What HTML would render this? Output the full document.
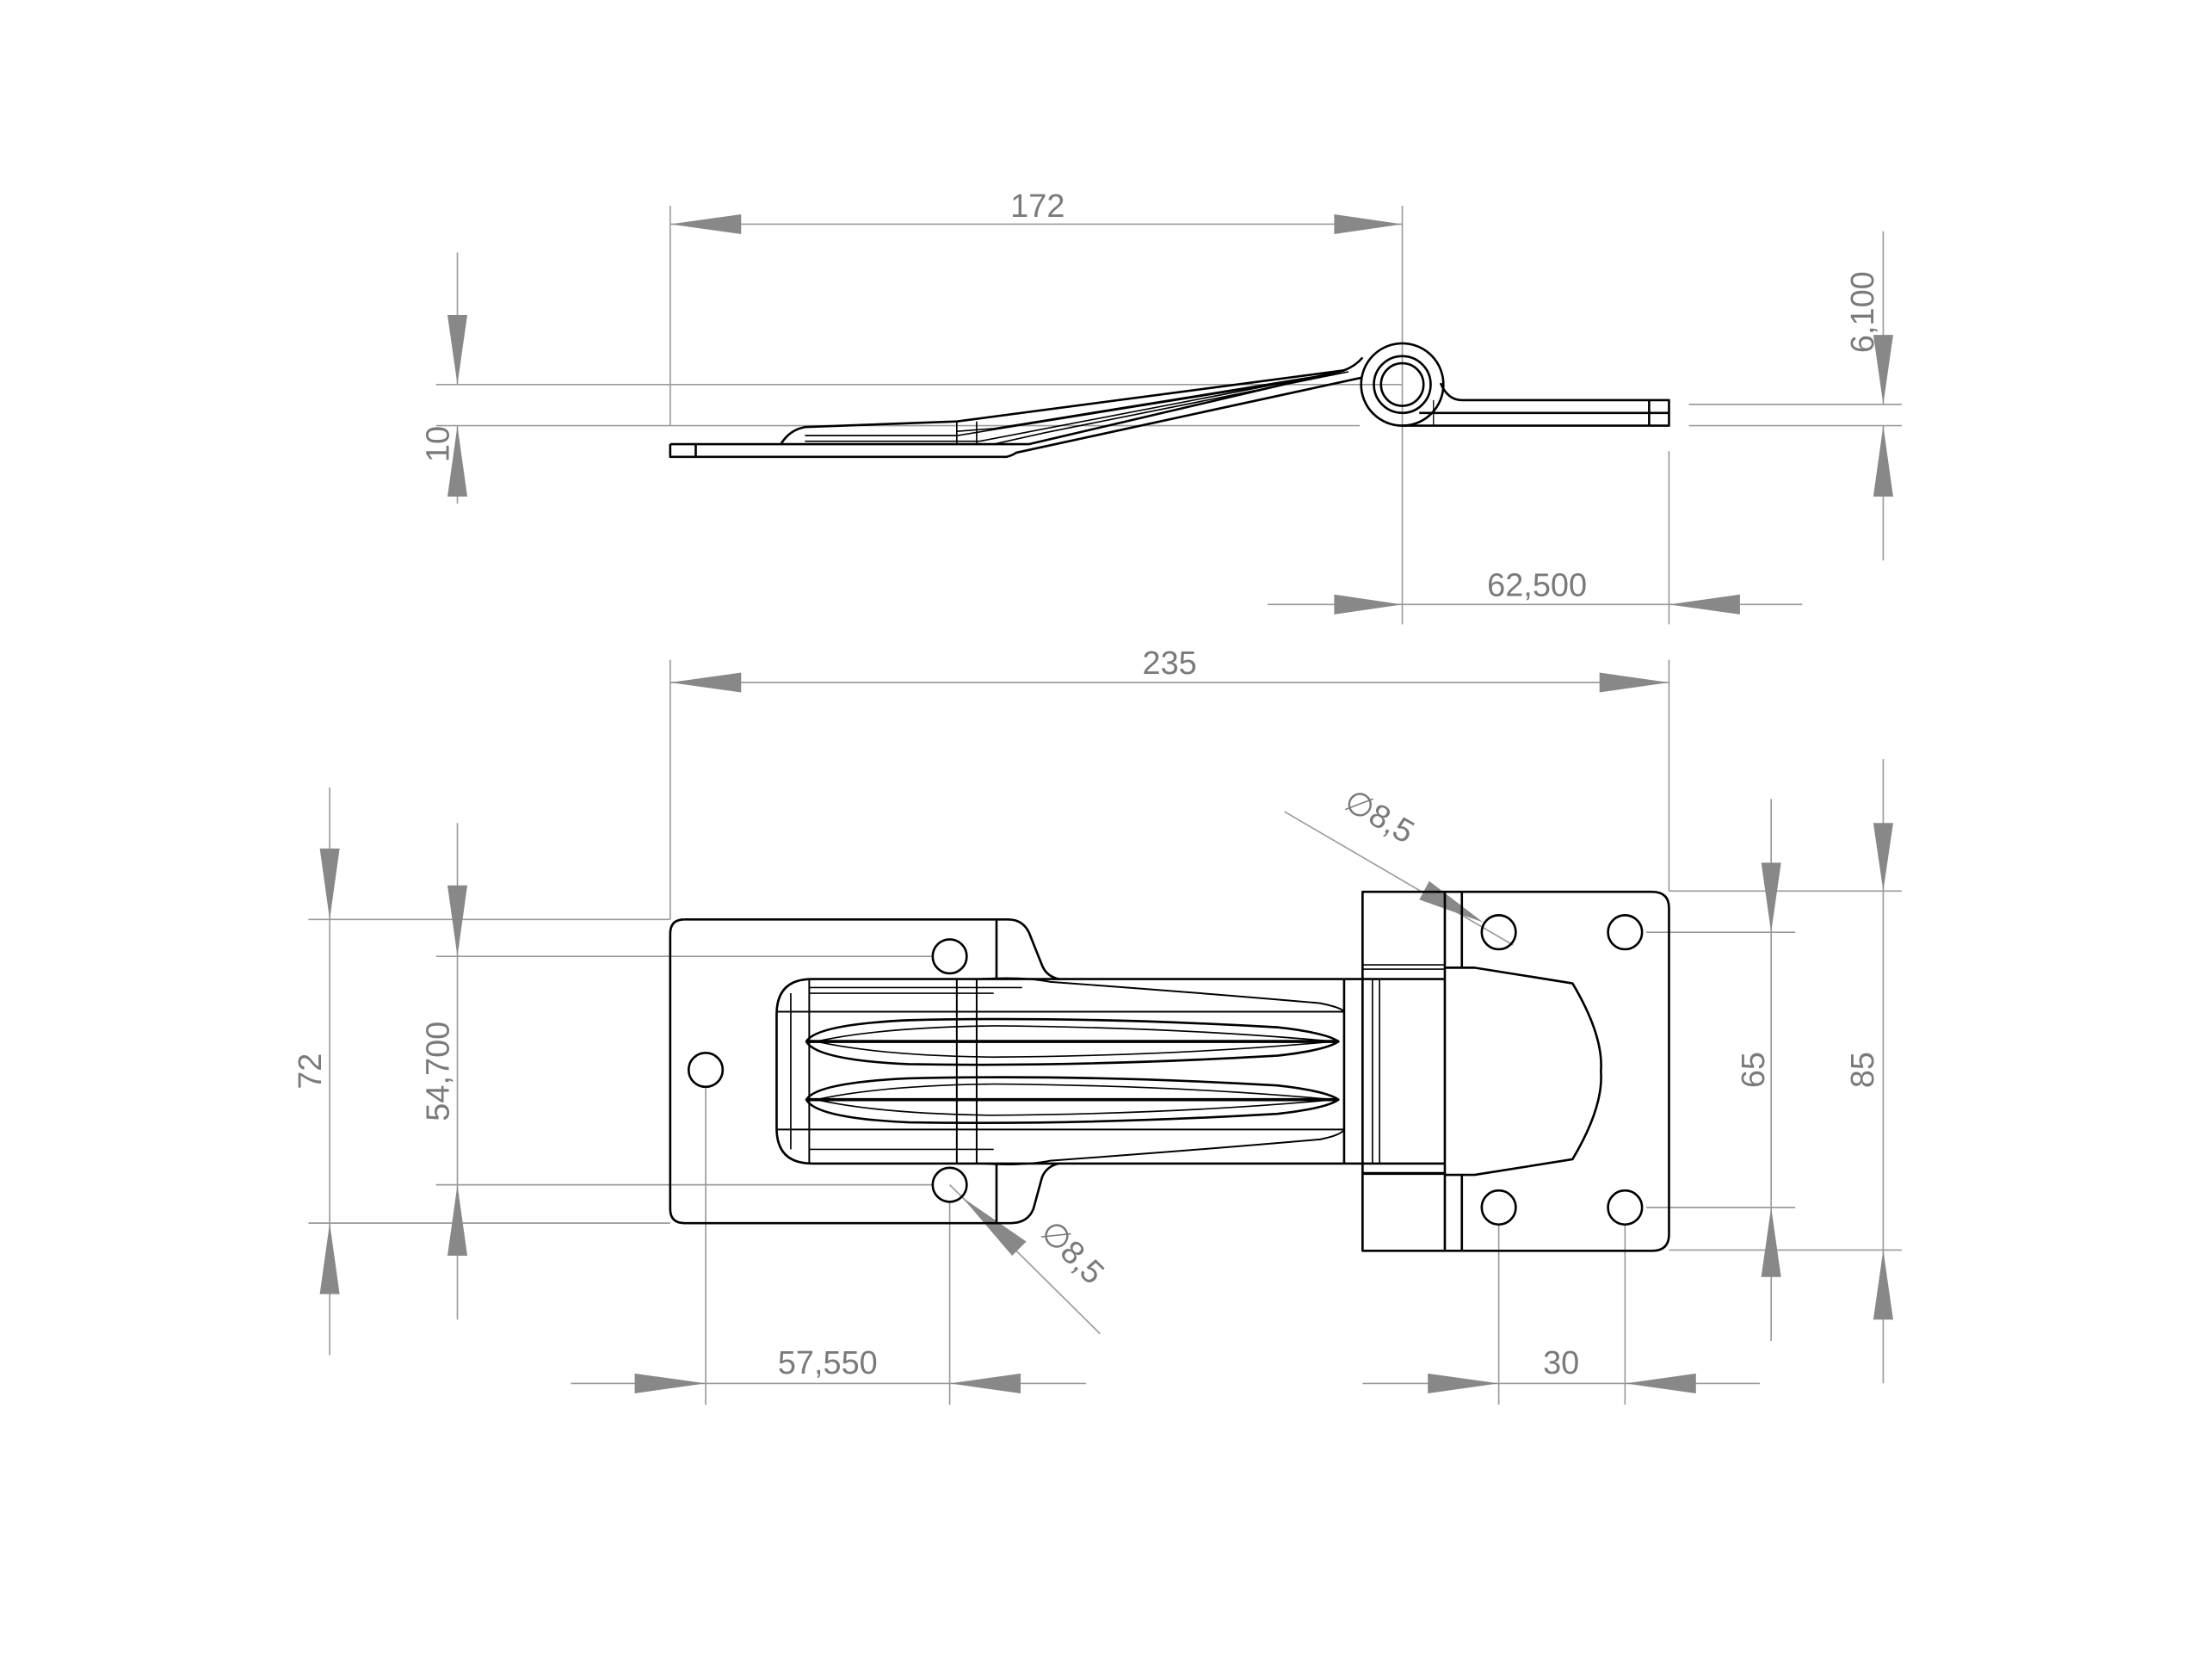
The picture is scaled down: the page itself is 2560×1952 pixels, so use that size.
<!DOCTYPE html>
<html><head><meta charset="utf-8"><style>
html,body{margin:0;padding:0;background:#fff;}
svg{display:block;}
text{font-family:"Liberation Sans",sans-serif;fill:#7a7a7a;font-size:23px;}
</style></head><body>
<svg width="2560" height="1952" viewBox="0 0 1552 1184" xmlns="http://www.w3.org/2000/svg">
<rect width="1552" height="1184" fill="#fff"/>
<g stroke="#9a9a9a" stroke-width="1" fill="none">
 <line x1="472" y1="158" x2="988" y2="158"/>
 <line x1="472" y1="145" x2="472" y2="300"/>
 <line x1="988" y1="145" x2="988" y2="440"/>
 <line x1="307" y1="271" x2="988" y2="271"/>
 <line x1="307" y1="300" x2="958" y2="300"/>
 <line x1="322" y1="178" x2="322" y2="271"/>
 <line x1="322" y1="300" x2="322" y2="355"/>
 <line x1="1190" y1="285" x2="1340" y2="285"/>
 <line x1="1190" y1="300" x2="1340" y2="300"/>
 <line x1="1327" y1="163" x2="1327" y2="285"/>
 <line x1="1327" y1="300" x2="1327" y2="395"/>
 <line x1="893" y1="426" x2="1270" y2="426"/>
 <line x1="1176" y1="318" x2="1176" y2="440"/>
 <line x1="472" y1="481" x2="1176" y2="481"/>
 <line x1="472" y1="465" x2="472" y2="648"/>
 <line x1="1176" y1="465" x2="1176" y2="628"/>
 <line x1="217" y1="648" x2="472" y2="648"/>
 <line x1="217" y1="862" x2="472" y2="862"/>
 <line x1="232" y1="555" x2="232" y2="955"/>
 <line x1="307" y1="674" x2="657" y2="674"/>
 <line x1="307" y1="835" x2="657" y2="835"/>
 <line x1="322" y1="580" x2="322" y2="930"/>
 <line x1="402" y1="975" x2="765" y2="975"/>
 <line x1="497" y1="766" x2="497" y2="990"/>
 <line x1="669" y1="847" x2="669" y2="990"/>
 <line x1="960" y1="975" x2="1240" y2="975"/>
 <line x1="1056" y1="863" x2="1056" y2="990"/>
 <line x1="1145" y1="863" x2="1145" y2="990"/>
 <line x1="1160" y1="657" x2="1265" y2="657"/>
 <line x1="1160" y1="851" x2="1265" y2="851"/>
 <line x1="1248" y1="563" x2="1248" y2="945"/>
 <line x1="1176" y1="628" x2="1340" y2="628"/>
 <line x1="1176" y1="881" x2="1340" y2="881"/>
 <line x1="1327" y1="535" x2="1327" y2="975"/>
 <line x1="905" y1="572" x2="1066" y2="666"/>
 <line x1="669" y1="835" x2="775" y2="940"/>
</g>
<g fill="#888">
 <polygon points="472,158 522,151 522,165"/>
 <polygon points="988,158 940,151 940,165"/>
 <polygon points="322,271 315,222 329,222"/>
 <polygon points="322,300 315,350 329,350"/>
 <polygon points="1327,285 1320,236 1334,236"/>
 <polygon points="1327,300 1320,350 1334,350"/>
 <polygon points="988,426 940,419 940,433"/>
 <polygon points="1176,426 1226,419 1226,433"/>
 <polygon points="472,481 522,474 522,488"/>
 <polygon points="1176,481 1127,474 1127,488"/>
 <polygon points="232,648 225,598 239,598"/>
 <polygon points="232,862 225,912 239,912"/>
 <polygon points="322,674 315,624 329,624"/>
 <polygon points="322,835 315,885 329,885"/>
 <polygon points="497,975 447,968 447,982"/>
 <polygon points="669,975 719,968 719,982"/>
 <polygon points="1056,975 1006,968 1006,982"/>
 <polygon points="1145,975 1195,968 1195,982"/>
 <polygon points="1248,657 1241,608 1255,608"/>
 <polygon points="1248,851 1241,900 1255,900"/>
 <polygon points="1327,628 1320,580 1334,580"/>
 <polygon points="1327,881 1320,930 1334,930"/>
 <polygon points="1045,650 1000,634 1007,621"/>
 <polygon points="678,844 713,885 723,875"/>
</g>
<text x="731" y="153" text-anchor="middle">172</text>
<text x="1083" y="420" text-anchor="middle">62,500</text>
<text x="824" y="475" text-anchor="middle">235</text>
<text x="583" y="968" text-anchor="middle">57,550</text>
<text x="1100" y="968" text-anchor="middle">30</text>
<text transform="translate(316,313) rotate(-90)" text-anchor="middle">10</text>
<text transform="translate(1320,220) rotate(-90)" text-anchor="middle">6,100</text>
<text transform="translate(226,755) rotate(-90)" text-anchor="middle">72</text>
<text transform="translate(316,755) rotate(-90)" text-anchor="middle">54,700</text>
<text transform="translate(1243,754) rotate(-90)" text-anchor="middle">65</text>
<text transform="translate(1320,754) rotate(-90)" text-anchor="middle">85</text>
<text transform="translate(968,582) rotate(30)" text-anchor="middle">∅8,5</text>
<text transform="translate(750,888) rotate(45)" text-anchor="middle">∅8,5</text>
<g stroke="#000" stroke-width="1.6" fill="none" stroke-linejoin="round">
 <circle cx="988" cy="271" r="29"/>
 <circle cx="988" cy="271" r="20"/>
 <circle cx="988" cy="271" r="15"/>
 <path d="M472,313 L725,313 L947,261 Q955,258 960,252"/>
 <path d="M472,313 L472,322 L709,322 Q713,321 716,319 L960,266"/>
 <line x1="490" y1="313" x2="490" y2="322"/>
 <path d="M988,300 L1176,300 L1176,282 L1030,282 Q1020,282 1015,270"/>
 <line x1="1000" y1="291" x2="1176" y2="291"/>
 <line x1="1162" y1="282" x2="1162" y2="300"/>
 <line x1="1010" y1="282" x2="1010" y2="300" stroke-width="0.8"/>
 <path d="M550,313 Q556,303 567,301 L674,297 L947,261"/>
 <path d="M567,307 L674,307 L940,264" stroke-width="1"/>
 <path d="M567,311 L690,311 L945,262" stroke-width="1"/>
 <path d="M674,304 L700,302 L935,264" stroke-width="1"/>
 <line x1="674" y1="297" x2="674" y2="313" stroke-width="1"/>
 <line x1="688" y1="297" x2="688" y2="313" stroke-width="1"/>
 <path d="M700,313 L736,305 L950,262" stroke-width="1"/>
</g>
<g stroke="#000" stroke-width="1.6" fill="none" stroke-linejoin="round">
 <path d="M482,648 L710,648 Q722,648 726,660 L734,680 Q737,688 746,690"/>
 <path d="M746,820 Q737,822 734,830 L728,852 Q724,862 712,862 L482,862 Q472,862 472,852 L472,658 Q472,648 482,648"/>
 <line x1="702" y1="648" x2="702" y2="690"/>
 <line x1="702" y1="820" x2="702" y2="862"/>
 <circle cx="669" cy="674" r="12"/>
 <circle cx="669" cy="835" r="12"/>
 <circle cx="497" cy="754" r="12"/>
 <path d="M1018,690 L572,690 Q547,690 547,715 L547,795 Q547,820 572,820 L1018,820"/>
 <line x1="570" y1="690" x2="570" y2="820" stroke-width="1.2"/>
 <line x1="557" y1="700" x2="557" y2="810" stroke-width="1"/>
 <line x1="570" y1="696" x2="720" y2="696" stroke-width="1"/>
 <line x1="570" y1="700" x2="700" y2="700" stroke-width="1"/>
 <line x1="547" y1="713" x2="947" y2="713" stroke-width="1.2"/>
 <line x1="547" y1="796" x2="947" y2="796" stroke-width="1.2"/>
 <line x1="570" y1="810" x2="700" y2="810" stroke-width="1"/>
 <path d="M690,690 Q720,688 740,692 Q850,700 930,707 Q945,710 947,713" stroke-width="1.2"/>
 <path d="M690,820 Q720,822 740,818 Q850,810 930,803 Q945,800 947,796" stroke-width="1.2"/>
 <line x1="674" y1="690" x2="674" y2="820" stroke-width="1.2"/>
 <line x1="688" y1="690" x2="688" y2="820" stroke-width="1.2"/>
 <path d="M568,734 Q575,722 640,719 Q760,716 900,724 Q935,728 943,734 Q935,740 900,744 Q760,752 640,750 Q575,747 568,734 Z"/>
 <path d="M575,734 Q620,724 700,723 Q830,724 940,734" stroke-width="1"/>
 <path d="M575,734 Q620,744 700,745 Q830,744 940,734" stroke-width="1"/>
 <line x1="568" y1="734" x2="943" y2="734" stroke-width="2.2"/>
 <path d="M568,775 Q575,763 640,760 Q760,757 900,765 Q935,769 943,775 Q935,781 900,785 Q760,793 640,791 Q575,788 568,775 Z"/>
 <path d="M575,775 Q620,765 700,764 Q830,765 940,775" stroke-width="1"/>
 <path d="M575,775 Q620,785 700,786 Q830,785 940,775" stroke-width="1"/>
 <line x1="568" y1="775" x2="943" y2="775" stroke-width="2.2"/>
 <line x1="947" y1="690" x2="947" y2="820"/>
 <line x1="967" y1="690" x2="967" y2="820" stroke-width="1"/>
 <line x1="972" y1="690" x2="972" y2="820" stroke-width="1"/>
 <path d="M960,628.5 L1164,628.5 Q1176,628.5 1176,640 L1176,870 Q1176,881.5 1164,881.5 L960,881.5 Z"/>
 <line x1="1018" y1="628.5" x2="1018" y2="881.5"/>
 <line x1="1030" y1="628.5" x2="1030" y2="682"/>
 <line x1="1030" y1="828" x2="1030" y2="881.5"/>
 <line x1="960" y1="680" x2="1018" y2="680" stroke-width="1"/>
 <line x1="960" y1="683" x2="1018" y2="683" stroke-width="1"/>
 <line x1="960" y1="827" x2="1018" y2="827" stroke-width="2"/>
 <path d="M1018,682 L1039,682 L1108,693 Q1130,730 1128,755 Q1130,780 1108,817 L1039,828 L1018,828"/>
 <circle cx="1056" cy="657" r="12"/>
 <circle cx="1145" cy="657" r="12"/>
 <circle cx="1056" cy="851" r="12"/>
 <circle cx="1145" cy="851" r="12"/>
</g>
</svg>
</body></html>
